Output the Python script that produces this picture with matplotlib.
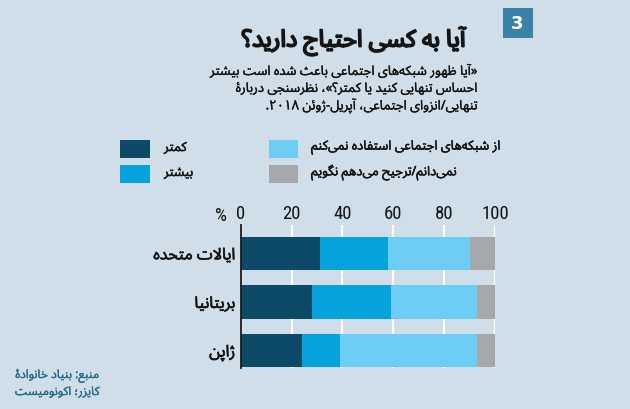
import matplotlib
matplotlib.use("Agg")
import matplotlib.pyplot as plt
from matplotlib import font_manager as fm
from matplotlib.ft2font import FT2Font
from matplotlib.patches import Rectangle
import matplotlib.patheffects as pe
import numpy as np

# ---------------- data ----------------
countries = ["ایالات متحده", "بریتانیا", "ژاپن"]
series_names = ["کمتر", "بیشتر", "از شبکه‌های اجتماعی استفاده نمی‌کنم", "نمی‌دانم/ترجیح می‌دهم نگویم"]
less_vals = [31, 28, 24]
more_vals = [27, 31, 15]
nosocial_vals = [32, 34, 54]
dontknow_vals = [10, 7, 7]
xticks = [0, 20, 40, 60, 80, 100]
title = "آیا به کسی احتیاج دارید؟"
subtitle = ["«آیا ظهور شبکه‌های اجتماعی باعث شده است بیشتر",
            "احساس تنهایی کنید یا کمتر؟»، نظرسنجی دربارۀ",
            "تنهایی/انزوای اجتماعی، آپریل-ژوئن ۲۰۱۸."]
source = ["منبع: بنیاد خانوادۀ", "کایزر؛ اکونومیست"]
chart_number = "3"

# ---------------- minimal Arabic/Persian shaping ----------------
FORMS = {
    'ء': (0xFE80, None, None, None),
    'آ': (0xFE81, 0xFE82, None, None), 'أ': (0xFE83, 0xFE84, None, None),
    'ؤ': (0xFE85, 0xFE86, None, None), 'إ': (0xFE87, 0xFE88, None, None),
    'ئ': (0xFE89, 0xFE8A, 0xFE8B, 0xFE8C), 'ا': (0xFE8D, 0xFE8E, None, None),
    'ب': (0xFE8F, 0xFE90, 0xFE91, 0xFE92), 'ة': (0xFE93, 0xFE94, None, None),
    'ت': (0xFE95, 0xFE96, 0xFE97, 0xFE98), 'ث': (0xFE99, 0xFE9A, 0xFE9B, 0xFE9C),
    'ج': (0xFE9D, 0xFE9E, 0xFE9F, 0xFEA0), 'ح': (0xFEA1, 0xFEA2, 0xFEA3, 0xFEA4),
    'خ': (0xFEA5, 0xFEA6, 0xFEA7, 0xFEA8), 'د': (0xFEA9, 0xFEAA, None, None),
    'ذ': (0xFEAB, 0xFEAC, None, None), 'ر': (0xFEAD, 0xFEAE, None, None),
    'ز': (0xFEAF, 0xFEB0, None, None), 'س': (0xFEB1, 0xFEB2, 0xFEB3, 0xFEB4),
    'ش': (0xFEB5, 0xFEB6, 0xFEB7, 0xFEB8), 'ص': (0xFEB9, 0xFEBA, 0xFEBB, 0xFEBC),
    'ض': (0xFEBD, 0xFEBE, 0xFEBF, 0xFEC0), 'ط': (0xFEC1, 0xFEC2, 0xFEC3, 0xFEC4),
    'ظ': (0xFEC5, 0xFEC6, 0xFEC7, 0xFEC8), 'ع': (0xFEC9, 0xFECA, 0xFECB, 0xFECC),
    'غ': (0xFECD, 0xFECE, 0xFECF, 0xFED0), 'ف': (0xFED1, 0xFED2, 0xFED3, 0xFED4),
    'ق': (0xFED5, 0xFED6, 0xFED7, 0xFED8), 'ك': (0xFED9, 0xFEDA, 0xFEDB, 0xFEDC),
    'ل': (0xFEDD, 0xFEDE, 0xFEDF, 0xFEE0), 'م': (0xFEE1, 0xFEE2, 0xFEE3, 0xFEE4),
    'ن': (0xFEE5, 0xFEE6, 0xFEE7, 0xFEE8), 'ه': (0xFEE9, 0xFEEA, 0xFEEB, 0xFEEC),
    'و': (0xFEED, 0xFEEE, None, None), 'ى': (0xFEEF, 0xFEF0, None, None),
    'ي': (0xFEF1, 0xFEF2, 0xFEF3, 0xFEF4),
    'پ': (0xFB56, 0xFB57, 0xFB58, 0xFB59), 'چ': (0xFB7A, 0xFB7B, 0xFB7C, 0xFB7D),
    'ژ': (0xFB8A, 0xFB8B, None, None), 'ک': (0xFB8E, 0xFB8F, 0xFB90, 0xFB91),
    'گ': (0xFB92, 0xFB93, 0xFB94, 0xFB95), 'ی': (0xFBFC, 0xFBFD, 0xFBFE, 0xFBFF),
    'ۀ': (0xFBA4, 0xFBA5, None, None),
}
LAM_ALEF = {'ا': (0xFEFB, 0xFEFC), 'آ': (0xFEF5, 0xFEF6), 'أ': (0xFEF7, 0xFEF8), 'إ': (0xFEF9, 0xFEFA)}
MIRROR = {'«': '»', '»': '«', '(': ')', ')': '('}


def _dual(c):
    return c in FORMS and FORMS[c][2] is not None


def _joinable(c):
    return c in FORMS and FORMS[c][1] is not None


def shape(s):
    ch = list(s)
    n = len(ch)
    out = []
    i = 0
    while i < n:
        c = ch[i]
        if c == '\u200c':
            i += 1
            continue
        if c not in FORMS:
            out.append(c)
            i += 1
            continue
        prev = ch[i - 1] if i > 0 else None
        cp = prev is not None and _dual(prev)
        if c == 'ل' and i + 1 < n and ch[i + 1] in LAM_ALEF:
            iso, fin = LAM_ALEF[ch[i + 1]]
            out.append(chr(fin if cp else iso))
            i += 2
            continue
        nxt = ch[i + 1] if i + 1 < n else None
        cn = _dual(c) and nxt is not None and _joinable(nxt)
        iso, fin, ini, med = FORMS[c]
        if cp and cn:
            g = med
        elif cp and fin:
            g = fin
        elif cn:
            g = ini
        else:
            g = iso
        out.append(chr(g))
        i += 1
    return ''.join(out)


def fa(s):
    rev = [MIRROR.get(c, c) for c in reversed(shape(s))]
    out, run = [], []
    for c in rev:
        if c.isdigit():
            run.append(c)
        else:
            out.extend(reversed(run))
            run = []
            out.append(c)
    out.extend(reversed(run))
    return ''.join(out)


# ---------------- font selection ----------------
all_texts = [title] + subtitle + source + countries + series_names
needed = set(''.join(fa(t) for t in all_texts)) - set(' ')
prefs = ["Vazirmatn", "Noto Sans Arabic", "Noto Kufi Arabic", "Noto Naskh Arabic", "DejaVu Sans"]
cover = {}
for f in fm.fontManager.ttflist:
    if f.name not in prefs:
        continue
    try:
        cm = FT2Font(f.fname).get_charmap()
    except Exception:
        continue
    if all(ord(c) in cm for c in needed):
        cover.setdefault(f.name, []).append(f.weight)
fa_family = next((p for p in prefs if p in cover), "DejaVu Sans")
bold_ok = any(isinstance(w, int) and w >= 600 for w in cover.get(fa_family, []))
names = set(f.name for f in fm.fontManager.ttflist)
num_family = next((p for p in ["Roboto Condensed", "PT Sans Narrow", "Liberation Sans Narrow"] if p in names), "DejaVu Sans")

# ---------------- figure ----------------
W, H = 630, 410
BG = "#cfdee8"
C_LESS, C_MORE, C_NOSOC, C_DK = "#0c4a68", "#05a2dc", "#6dcdf4", "#a6a8ab"
TXT = "#141414"

fig = plt.figure(figsize=(W / 100, H / 100), dpi=100, facecolor=BG)


def fx(px):
    return px / W


def fy(py):
    return 1 - py / H


def ptext(x, y, s, size, ha="right", va="center", color=TXT, stroke=0.0, family=None, weight="normal"):
    fam = family or fa_family
    w = weight
    if family is None and stroke > 0 and bold_ok:
        w, stroke = "bold", 0.0
    t = fig.text(fx(x), fy(y), s, fontsize=size, ha=ha, va=va, color=color, family=fam, weight=w)
    if stroke > 0:
        t.set_path_effects([pe.withStroke(linewidth=stroke, foreground=color)])
    return t


# chart number box
fig.patches.append(Rectangle((fx(502.5), fy(39)), (532.5 - 502.5) / W, 30 / H,
                             transform=fig.transFigure, facecolor="#3a82a8", edgecolor="none"))
ptext(517.5, 24, chart_number, 13, ha="center", color="white", family="DejaVu Sans", weight="bold")

# title & subtitle
ptext(465, 42, fa(title), 17, stroke=1.3)
for k, line in enumerate(subtitle):
    ptext(478, 72 + 17.5 * k, fa(line), 9.4, stroke=0.25)

# legend
leg = [(120.5, 149.5, 150, C_LESS, series_names[0], 164),
       (120.5, 149.5, 175, C_MORE, series_names[1], 164),
       (269, 298, 150, C_NOSOC, series_names[2], 311),
       (269, 298, 175, C_DK, series_names[3], 311)]
for x0, x1, yc, col, lab, tx in leg:
    fig.patches.append(Rectangle((fx(x0), fy(yc + 9)), (x1 - x0) / W, 18 / H,
                                 transform=fig.transFigure, facecolor=col, edgecolor="none"))
    ptext(tx, yc - 1.5, fa(lab), 9.3, ha="left", stroke=0.35)

# axes
ax_left, ax_right, ax_top, ax_bot = 240.7, 495.0, 226.0, 369.0
ax = fig.add_axes([fx(ax_left), fy(ax_bot), (ax_right - ax_left) / W, (ax_bot - ax_top) / H])
ax.set_facecolor("none")
y = np.arange(len(countries))
step = 48.6
bh = 33.5 / step
left = np.zeros(len(countries))
for vals, col in [(less_vals, C_LESS), (more_vals, C_MORE), (nosocial_vals, C_NOSOC), (dontknow_vals, C_DK)]:
    ax.barh(y, vals, left=left, height=bh, color=col, zorder=2, linewidth=0)
    left = left + np.array(vals)
ax.set_xlim(0, 100)
ax.set_ylim(2 + (ax_bot - 351.5) / step, -(254.3 - ax_top) / step)
ax.set_xticks(xticks)
ax.xaxis.tick_top()
ax.tick_params(axis="x", length=0, pad=2.0, labelsize=13.5, labelcolor=TXT)
for lbl in ax.get_xticklabels():
    lbl.set_family(num_family)
ax.xaxis.grid(True, color="white", linewidth=1.6, zorder=1)
ax.set_axisbelow(True)
ax.set_yticks(y)
ax.set_yticklabels([fa(c) for c in countries], family=fa_family, fontsize=11.5, color=TXT)
for lbl in ax.get_yticklabels():
    lbl.set_path_effects([pe.withStroke(linewidth=0.45, foreground=TXT)])
ax.tick_params(axis="y", length=0, pad=4)
for s in ["top", "right", "bottom"]:
    ax.spines[s].set_visible(False)
ax.spines["left"].set_color("#1a1a1a")
ax.spines["left"].set_linewidth(1.3)
ax.spines["left"].set_zorder(3)

ptext(221, 216, "%", 13.5, ha="center", family=num_family)

# source
for k, line in enumerate(source):
    ptext(100, 377 + 15.5 * k, fa(line), 8.6, color="#24698b", stroke=0.2)

fig.savefig("out.png", dpi=100, facecolor=BG)
